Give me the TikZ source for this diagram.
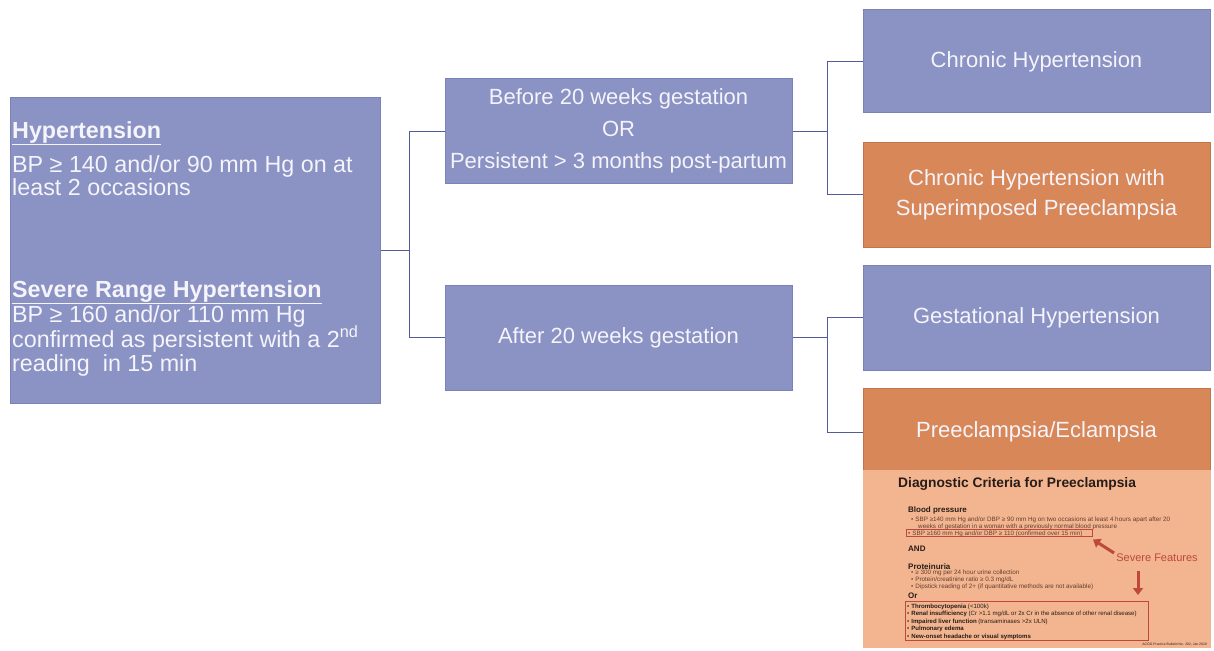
\documentclass[tikz,border=0pt]{standalone}
\usepackage{fontspec}
\setmainfont{Liberation Sans}
\usetikzlibrary{arrows.meta}
\definecolor{boxblue}{RGB}{139,146,196}
\definecolor{edgeblue}{RGB}{122,130,184}
\definecolor{boxorange}{RGB}{216,135,88}
\definecolor{edgeorange}{RGB}{196,116,72}
\definecolor{boxtext}{RGB}{244,244,250}
\definecolor{connblue}{RGB}{82,92,152}
\definecolor{critbg}{RGB}{242,181,143}
\definecolor{critred}{RGB}{190,72,60}
\definecolor{crittext}{RGB}{100,62,50}
\definecolor{crithead}{RGB}{40,28,25}
\begin{document}
\begin{tikzpicture}[x=1pt,y=-1pt,
  bluebox/.style={draw=edgeblue, line width=1pt, fill=boxblue, text=boxtext, align=center, inner sep=0pt, font=\fontsize{22}{30}\selectfont},
  orangebox/.style={bluebox, draw=edgeorange, fill=boxorange},
  lefttxt/.style={anchor=base west, inner sep=0pt, text=boxtext, font=\fontsize{23.3}{26}\selectfont},
  conn/.style={draw=connblue, line width=1pt},
  ct/.style={anchor=base west, inner sep=0pt, text=crittext, font=\fontsize{6.3}{7}\selectfont},
  cth/.style={anchor=base west, inner sep=0pt, text=crithead, font=\fontsize{8}{9}\selectfont\bfseries},
  ci/.style={anchor=base west, inner sep=0pt, text=crithead, font=\fontsize{6.1}{7}\selectfont},
  redbox/.style={draw=critred, line width=0.8pt, inner sep=0pt},
  redarrow/.style={draw=critred, line width=3pt, -{Triangle[length=7pt,width=10pt]}}
]
\useasboundingbox (0,0) rectangle (1214,650);
\fill[white] (0,0) rectangle (1214,650);

% left definition box
\node[bluebox, minimum width=370pt, minimum height=305pt] (def) at (195,250.5) {};
\node[lefttxt] (h1) at (12,138) {\underline{\textbf{Hypertension}}};
\node[lefttxt] (h1a) at (12,172) {BP ≥ 140 and/or 90 mm Hg on at};
\node[lefttxt] (h1b) at (12,195) {least 2 occasions};
\node[lefttxt] (h2) at (12,297) {\underline{\textbf{Severe Range Hypertension}}};
\node[lefttxt] (h2a) at (12,322) {BP ≥ 160 and/or 110 mm Hg};
\node[lefttxt] (h2b) at (12,347) {confirmed as persistent with a 2\textsuperscript{nd}};
\node[lefttxt] (h2c) at (12,371) {reading~ in 15 min};

% middle boxes
\node[bluebox, minimum width=347pt, minimum height=104pt] (mid1) at (618.5,131) {Before 20 weeks gestation\\[2pt] OR\\[2pt] Persistent > 3 months post-partum};
\node[bluebox, minimum width=347pt, minimum height=105pt] (mid2) at (618.5,337.5) {After 20 weeks gestation};

% right boxes
\node[bluebox, minimum width=347pt, minimum height=103pt] (r1) at (1036.5,61.5) {Chronic Hypertension};
\node[orangebox, minimum width=347pt, minimum height=105pt] (r2) at (1036.5,194.5) {Chronic Hypertension with\\ Superimposed Preeclampsia};
\node[bluebox, minimum width=347pt, minimum height=105pt] (r3) at (1036.5,317.5) {Gestational Hypertension};
\node[orangebox, minimum width=347pt, minimum height=88pt] (r4) at (1036.5,432) {Preeclampsia/Eclampsia};

% connectors
\coordinate (j1) at (409,250.5);
\coordinate (j2) at (827,131);
\coordinate (j3) at (827,337.5);
\draw[conn] (def.east) -- (j1);
\draw[conn] (j1) |- (mid1.west);
\draw[conn] (j1) |- (mid2.west);
\draw[conn] (mid1.east) -- (j2);
\draw[conn] (j2) |- (r1.west);
\draw[conn] (j2) |- (r2.west);
\draw[conn] (mid2.east) -- (j3);
\draw[conn] (j3) |- (r3.west);
\draw[conn] (j3) |- (r4.west);

% diagnostic criteria inset
\node[fill=critbg, minimum width=348pt, minimum height=178pt, inner sep=0pt] (crit) at (1037,559) {};
\node[anchor=base west, inner sep=0pt, text=crithead, font=\fontsize{13.8}{15}\selectfont\bfseries] (ctitle) at (898,487) {Diagnostic Criteria for Preeclampsia};
\node[cth] (bp) at (908,512) {Blood pressure};
\node[ct] (bpb1) at (911,521) {•\hspace{2pt}SBP ≥140 mm Hg and/or DBP ≥ 90 mm Hg on two occasions at least 4 hours apart after 20};
\node[ct] (bpb2) at (918,528) {weeks of gestation in a woman with a previously normal blood pressure};
\node[ct] (bpb3) at (908,535) {•\hspace{2pt}SBP ≥160 mm Hg and/or DBP ≥ 110 (confirmed over 15 min)};
\node[redbox, minimum width=186pt, minimum height=7.4pt] (bpbox) at (999,533) {};
\node[cth] (and) at (908,551) {AND};
\node[cth] (prot) at (908,569) {Proteinuria};
\node[ct] (pb1) at (911,574.5) {•\hspace{2pt}≥ 300 mg per 24 hour urine collection};
\node[ct] (pb2) at (911,581.5) {•\hspace{2pt}Protein/creatinine ratio ≥ 0.3 mg/dL};
\node[ct] (pb3) at (911,588.5) {•\hspace{2pt}Dipstick reading of 2+ (if quantitative methods are not available)};
\node[cth] (or) at (908,598.5) {Or};
\node[redbox, minimum width=243pt, minimum height=39pt] (orbox) at (1026.5,620.5) {};
\node[ci] (o1) at (907,608) {•\hspace{2pt}\textbf{Thrombocytopenia} (<100k)};
\node[ci] (o2) at (907,615.5) {•\hspace{2pt}\textbf{Renal insufficiency} (Cr >1.1 mg/dL or 2x Cr in the absence of other renal disease)};
\node[ci] (o3) at (907,623) {•\hspace{2pt}\textbf{Impaired liver function} (transaminases >2x ULN)};
\node[ci] (o4) at (907,630.5) {•\hspace{2pt}\textbf{Pulmonary edema}};
\node[ci] (o5) at (907,638) {•\hspace{2pt}\textbf{New-onset headache or visual symptoms}};
\node[anchor=base east, inner sep=0pt, text=crithead, font=\fontsize{3.4}{4}\selectfont] (cite) at (1207,645) {ACOG Practice Bulletin No. 202, Jan 2019};
\node[text=critred, inner sep=0pt, font=\fontsize{11}{12}\selectfont] (sev) at (1157,558) {Severe Features};
\coordinate (a1s) at (1114,553);
\coordinate (a1e) at (1093,539.5);
\draw[redarrow] (a1s) -- (a1e);
\coordinate (a2s) at (1138,571);
\coordinate (a2e) at (1138,595);
\draw[redarrow] (a2s) -- (a2e);
\end{tikzpicture}
\end{document}
